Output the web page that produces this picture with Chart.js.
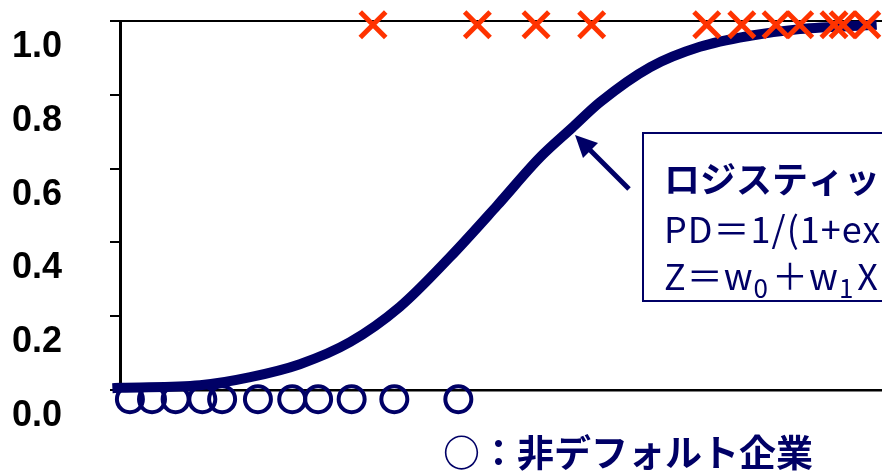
<!DOCTYPE html>
<html lang="ja">
<head>
    <meta charset="UTF-8">
    <title>Logistic curve</title>
    <script src="https://cdn.jsdelivr.net/npm/chart.js"></script>
    <style>
        html, body { margin: 0; padding: 0; background: #fff; overflow: hidden; }
        #wrap { width: 882px; height: 471px; }
    </style>
</head>
<body>
    <div id="wrap"><canvas id="chart" width="882" height="471"></canvas></div>

    <script>
        // fitted curve
        const curveX = [-1, 0, 10.5, 17.1, 23.6, 30.2, 36.7, 43.3, 49.5, 55.1, 59.3, 63.0, 69.6, 76.1, 82.7, 89.2, 99.3];
        const curveY = [0.005, 0.006, 0.013, 0.035, 0.07, 0.13, 0.225, 0.36, 0.5, 0.63, 0.71, 0.78, 0.875, 0.93, 0.96, 0.978, 0.99];

        // non-default firms (circles)
        const nonDefaultX = [1.3, 4.2, 7.3, 10.8, 13.4, 18.1, 22.6, 26.0, 30.4, 36.0, 44.4];
        const nonDefaultY = [-0.025, -0.025, -0.025, -0.025, -0.025, -0.025, -0.025, -0.025, -0.025, -0.025, -0.025];

        // default firms (crosses)
        const defaultX = [33.2, 46.9, 54.6, 61.9, 77.0, 81.6, 86.1, 89.2, 93.7, 94.9, 98.0];
        const defaultY = [0.99, 0.99, 0.99, 0.99, 0.99, 0.99, 0.99, 0.99, 0.99, 0.99, 0.99];

        const yTicks = [0, 0.2, 0.4, 0.6, 0.8, 1.0];

        const NAVY = '#000066';
        const RED = '#FF3300';

        const toPoints = (xs, ys) => xs.map((x, i) => ({ x: x, y: ys[i] }));

        // annotation box, arrow and legend text
        const notes = {
            id: 'notes',
            afterDraw(chart) {
                const ctx = chart.ctx;
                ctx.save();

                // box
                ctx.strokeStyle = NAVY;
                ctx.lineWidth = 2;
                ctx.strokeRect(643, 133, 300, 168);

                ctx.fillStyle = NAVY;
                ctx.textBaseline = 'alphabetic';
                ctx.textAlign = 'left';
                ctx.font = 'bold 36px "Noto Sans CJK JP"';
                ctx.fillText('ロジスティック回帰', 664, 193);

                ctx.letterSpacing = '1px';
                ctx.font = '36px "Noto Sans CJK JP"';
                ctx.fillText('PD＝1/(1+exp(−Z))', 664, 243);

                let x = 664;
                const line3 = [['Z＝w', 0], ['0', 1], ['＋w', 0], ['1', 1], ['X', 0]];
                line3.forEach(([t, sub]) => {
                    ctx.font = sub ? '26px "Noto Sans CJK JP"' : '36px "Noto Sans CJK JP"';
                    ctx.fillText(t, x, sub ? 298 : 290);
                    x += ctx.measureText(t).width + (sub ? 3 : 0);
                });
                ctx.letterSpacing = '0px';

                // arrow
                ctx.strokeStyle = NAVY;
                ctx.lineWidth = 5;
                ctx.beginPath();
                ctx.moveTo(629, 189);
                ctx.lineTo(588, 148);
                ctx.stroke();
                ctx.beginPath();
                ctx.moveTo(575, 135);
                ctx.lineTo(598, 143);
                ctx.lineTo(583, 158);
                ctx.closePath();
                ctx.fill();

                // legend text
                ctx.font = 'bold 37px "Noto Sans CJK JP"';
                ctx.textBaseline = 'middle';
                ctx.fillText('○：非デフォルト企業', 443, 453);

                ctx.restore();
            }
        };

        const noPad = s => { s.paddingTop = 0; s.paddingBottom = 0; s.paddingLeft = 0; s.paddingRight = 0; };

        new Chart(document.getElementById('chart'), {
            type: 'scatter',
            data: {
                datasets: [
                    {
                        label: 'デフォルト企業',
                        data: toPoints(defaultX, defaultY),
                        pointStyle: 'crossRot',
                        pointRadius: 18,
                        pointBorderWidth: 5,
                        borderColor: RED,
                        backgroundColor: RED,
                        clip: false
                    },
                    {
                        label: '非デフォルト企業',
                        data: toPoints(nonDefaultX, nonDefaultY),
                        pointStyle: 'circle',
                        pointRadius: 13,
                        pointBorderWidth: 4,
                        borderColor: NAVY,
                        backgroundColor: 'rgba(0,0,0,0)',
                        clip: false
                    },
                    {
                        type: 'line',
                        label: 'ロジスティック曲線',
                        data: toPoints(curveX, curveY),
                        borderColor: NAVY,
                        borderWidth: 10,
                        borderCapStyle: 'butt',
                        pointRadius: 0,
                        cubicInterpolationMode: 'monotone',
                        fill: false,
                        clip: false
                    }
                ]
            },
            options: {
                responsive: false,
                animation: false,
                layout: { autoPadding: false, padding: { top: 21, bottom: 81, left: 0, right: 0 } },
                plugins: {
                    legend: { display: false },
                    tooltip: { enabled: false }
                },
                scales: {
                    x: {
                        type: 'linear',
                        min: 0,
                        max: 100,
                        ticks: { display: false },
                        grid: { display: false, drawTicks: false },
                        border: { display: true, color: '#000', width: 2.5 },
                        afterFit: s => { s.height = 0; noPad(s); }
                    },
                    x2: {
                        type: 'linear',
                        position: 'top',
                        min: 0,
                        max: 100,
                        ticks: { display: false },
                        grid: { display: false, drawTicks: false },
                        border: { display: true, color: '#000', width: 2 },
                        afterFit: s => { s.height = 0; noPad(s); }
                    },
                    y: {
                        min: 0,
                        max: 1,
                        afterBuildTicks: s => { s.ticks = yTicks.map(v => ({ value: v })); },
                        ticks: {
                            padding: 48,
                            labelOffset: 26,
                            color: '#000',
                            font: { family: '"Liberation Sans", Arial, sans-serif', size: 36, weight: 'bold' },
                            callback: v => Number(v).toFixed(1)
                        },
                        grid: {
                            drawOnChartArea: false,
                            drawTicks: true,
                            tickLength: 10,
                            color: '#000',
                            lineWidth: 2
                        },
                        border: { display: true, color: '#000', width: 3 },
                        afterFit: s => { s.width = 120; noPad(s); }
                    }
                }
            },
            plugins: [notes]
        });
    </script>
</body>
</html>
